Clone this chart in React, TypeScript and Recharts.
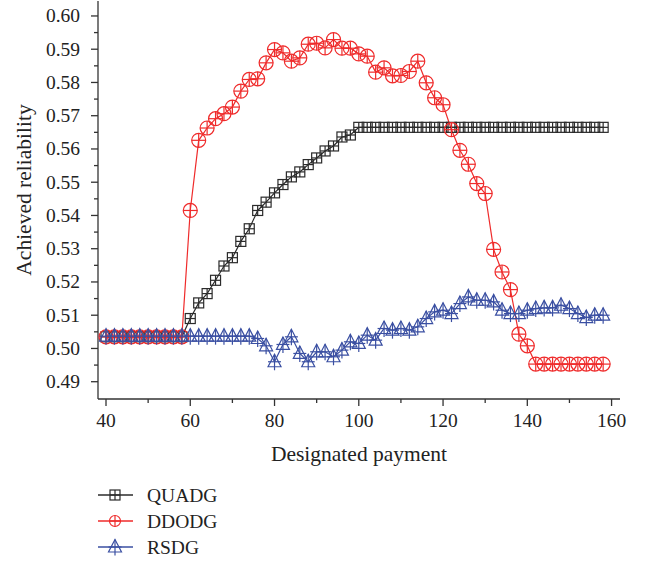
import React from "react";
import {
  LineChart,
  Line,
  XAxis,
  YAxis,
  Legend,
  Label,
} from "recharts";

const payments = [
  40, 42, 44, 46, 48, 50, 52, 54, 56, 58, 60, 62, 64, 66, 68, 70, 72, 74, 76, 78,
  80, 82, 84, 86, 88, 90, 92, 94, 96, 98, 100, 102, 104, 106, 108, 110, 112, 114, 116, 118,
  120, 122, 124, 126, 128, 130, 132, 134, 136, 138, 140, 142, 144, 146, 148, 150, 152, 154, 156, 158,
];

const quadg = [
  0.5035, 0.5035, 0.5035, 0.5035, 0.5035, 0.5035, 0.5035, 0.5035, 0.5035, 0.5035,
  0.509, 0.5137, 0.5165, 0.5205, 0.5248, 0.5273, 0.5322, 0.536, 0.5415, 0.544,
  0.5468, 0.5493, 0.5516, 0.5531, 0.5553, 0.5573, 0.5594, 0.5609, 0.5636, 0.5642,
  0.5665, 0.5665, 0.5665, 0.5665, 0.5665, 0.5665, 0.5665, 0.5665, 0.5665, 0.5665,
  0.5665, 0.5665, 0.5665, 0.5665, 0.5665, 0.5665, 0.5665, 0.5665, 0.5665, 0.5665,
  0.5665, 0.5665, 0.5665, 0.5665, 0.5665, 0.5665, 0.5665, 0.5665, 0.5665, 0.5665,
];

const ddodg = [
  0.5035, 0.5035, 0.5035, 0.5035, 0.5035, 0.5035, 0.5035, 0.5035, 0.5035, 0.5035,
  0.5415, 0.5626, 0.5663, 0.5691, 0.5706, 0.5726, 0.5774, 0.5809, 0.5811, 0.5859,
  0.5899, 0.5889, 0.5864, 0.5874, 0.5915, 0.5918, 0.5904, 0.5929, 0.5903, 0.5903,
  0.5886, 0.5879, 0.5831, 0.5844, 0.582, 0.5821, 0.5833, 0.5864, 0.5799, 0.5754,
  0.5733, 0.5658, 0.5596, 0.5554, 0.5496, 0.5466, 0.5298, 0.523, 0.5177, 0.5043,
  0.5008, 0.4953, 0.4953, 0.4953, 0.4953, 0.4953, 0.4953, 0.4953, 0.4953, 0.4953,
];

const rsdg = [
  0.5037, 0.5037, 0.5037, 0.5037, 0.5037, 0.5037, 0.5037, 0.5037, 0.5037, 0.5037,
  0.5037, 0.5037, 0.5037, 0.5037, 0.5037, 0.5037, 0.5037, 0.5037, 0.503, 0.5008,
  0.496, 0.5012, 0.5035, 0.4985, 0.496, 0.499, 0.499, 0.4975, 0.4995, 0.502,
  0.5015, 0.504, 0.5025, 0.506, 0.5055, 0.506, 0.5055, 0.5065, 0.509, 0.511,
  0.5115, 0.5105, 0.5135, 0.5155, 0.5145, 0.5145, 0.514, 0.5115, 0.5105, 0.5105,
  0.5115, 0.512, 0.5122, 0.5122, 0.513, 0.512, 0.5105, 0.5093, 0.51, 0.51,
];

const xTicks = [40, 50, 60, 70, 80, 90, 100, 110, 120, 130, 140, 150, 160];
const yTicks = [
  0.49, 0.495, 0.5, 0.505, 0.51, 0.515, 0.52, 0.525, 0.53, 0.535, 0.54, 0.545,
  0.55, 0.555, 0.56, 0.565, 0.57, 0.575, 0.58, 0.585, 0.59, 0.595, 0.6,
];

const data = payments.map((p, i) => ({
  payment: p,
  quadg: quadg[i],
  ddodg: ddodg[i],
  rsdg: rsdg[i],
}));

const FONT = "'Liberation Serif', 'DejaVu Serif', serif";
const AXIS = "#333";
const BLACK = "#2b2b2b";
const RED = "#ef2b2b";
const BLUE = "#3a4fa2";

const isMajorY = (v: number) => Math.round(v * 1000) % 10 === 0;
const isMajorX = (v: number) => v % 20 === 0;

function sideTick(side: "left" | "bottom" | "top" | "right") {
  return (props: any) => {
    const { x, y, payload } = props;
    const v = payload.value;
    const major = side === "left" || side === "right" ? isMajorY(v) : isMajorX(v);
    const len = major ? 7 : 4;
    if (side === "left") {
      return (
        <g>
          <line x1={x - len} x2={x} y1={y} y2={y} stroke={AXIS} strokeWidth={1.3} />
          {major && (
            <text x={x - 18} y={y + 6.5} textAnchor="end" fontSize={19.5} fontFamily={FONT} fill="#222">
              {v.toFixed(2)}
            </text>
          )}
        </g>
      );
    }
    if (side === "bottom") {
      return (
        <g>
          <line x1={x} x2={x} y1={y} y2={y + len} stroke={AXIS} strokeWidth={1.3} />
          {major && (
            <text x={x} y={y + 27.5} textAnchor="middle" fontSize={19.5} fontFamily={FONT} fill="#222">
              {v}
            </text>
          )}
        </g>
      );
    }
    if (side === "top") {
      return <line x1={x} x2={x} y1={y} y2={y + len} stroke={AXIS} strokeWidth={1.3} />;
    }
    return <line x1={x - len} x2={x} y1={y} y2={y} stroke={AXIS} strokeWidth={1.3} />;
  };
}

const SquareMark = ({ cx, cy, s = 5 }: any) => (
  <g stroke={BLACK} strokeWidth={1.2} fill="none">
    <rect x={cx - s} y={cy - s} width={s * 2} height={s * 2} />
    <line x1={cx} x2={cx} y1={cy - s} y2={cy + s} />
    <line x1={cx - s} x2={cx + s} y1={cy} y2={cy} />
  </g>
);

const CircleMark = ({ cx, cy, r = 7 }: any) => (
  <g stroke={RED} strokeWidth={1.2} fill="none">
    <circle cx={cx} cy={cy} r={r} />
    <line x1={cx} x2={cx} y1={cy - r} y2={cy + r} />
    <line x1={cx - r} x2={cx + r} y1={cy} y2={cy} />
  </g>
);

const TriangleMark = ({ cx, cy, s = 6.5 }: any) => (
  <g stroke={BLUE} strokeWidth={1.2} fill="none">
    <polygon points={`${cx},${cy - s - 1} ${cx - s},${cy + s - 1.5} ${cx + s},${cy + s - 1.5}`} />
    <line x1={cx} x2={cx} y1={cy - s - 1} y2={cy + s + 2} />
    <line x1={cx - s} x2={cx + s} y1={cy} y2={cy} />
  </g>
);

const squareDot = (p: any) => <SquareMark key={`q-${p.index}`} cx={p.cx} cy={p.cy} />;
const circleDot = (p: any) => <CircleMark key={`d-${p.index}`} cx={p.cx} cy={p.cy} />;
const triangleDot = (p: any) => <TriangleMark key={`r-${p.index}`} cx={p.cx} cy={p.cy} />;

const legendRows = [
  { name: "QUADG", color: BLACK, Mark: SquareMark, size: { s: 5 } },
  { name: "DDODG", color: RED, Mark: CircleMark, size: { r: 5.5 } },
  { name: "RSDG", color: BLUE, Mark: TriangleMark, size: { s: 6.5 } },
];

function LegendBox() {
  return (
    <svg width={200} height={85} style={{ display: "block" }}>
      {legendRows.map((row, i) => {
        const y = 15 + i * 26;
        const M = row.Mark;
        return (
          <g key={row.name}>
            <line x1={8} x2={43} y1={y} y2={y} stroke={row.color} strokeWidth={1.3} />
            <M cx={25} cy={y} {...row.size} />
            <text x={57} y={y + 6.5} fontSize={19.5} fontFamily={FONT} fill="#222">
              {row.name}
            </text>
          </g>
        );
      })}
    </svg>
  );
}

export default function App() {
  return (
    <div style={{ position: "absolute", left: 0, top: 0, width: 648, height: 565, background: "#fff" }}>
      <LineChart
        width={648}
        height={565}
        data={data}
        margin={{ top: 1, right: 28, bottom: 96, left: 38 }}
      >
        <XAxis
          dataKey="payment"
          type="number"
          domain={[38.1, 162]}
          allowDataOverflow
          ticks={xTicks}
          interval={0}
          tickSize={0}
          tickMargin={0}
          tickLine={false}
          tick={sideTick("bottom")}
          axisLine={{ stroke: AXIS, strokeWidth: 1.3 }}
          height={70}
        >
          <Label
            content={({ viewBox }: any) => (
              <text
                x={viewBox.x + viewBox.width / 2}
                y={viewBox.y + 62}
                textAnchor="middle"
                fontSize={21.5}
                fontFamily={FONT}
                fill="#222"
              >
                Designated payment
              </text>
            )}
          />
        </XAxis>
        <XAxis
          xAxisId="top"
          orientation="top"
          dataKey="payment"
          type="number"
          domain={[38.1, 162]}
          allowDataOverflow
          ticks={xTicks}
          interval={0}
          tickSize={0}
          tickMargin={0}
          tickLine={false}
          tick={sideTick("top")}
          axisLine={{ stroke: AXIS, strokeWidth: 1.3 }}
          height={0}
        />
        <YAxis
          type="number"
          domain={[0.4848, 0.6045]}
          allowDataOverflow
          ticks={yTicks}
          interval={0}
          tickSize={0}
          tickMargin={0}
          tickLine={false}
          tick={sideTick("left")}
          axisLine={{ stroke: AXIS, strokeWidth: 1.3 }}
          width={60}
        >
          <Label
            content={() => (
              <text
                x={31}
                y={190}
                transform={`rotate(-90 31 190)`}
                textAnchor="middle"
                fontSize={21.5}
                fontFamily={FONT}
                fill="#222"
              >
                Achieved reliability
              </text>
            )}
          />
        </YAxis>
        <YAxis
          yAxisId="right"
          orientation="right"
          type="number"
          domain={[0.4848, 0.6045]}
          allowDataOverflow
          ticks={yTicks}
          interval={0}
          tickSize={0}
          tickMargin={0}
          tickLine={false}
          tick={sideTick("right")}
          axisLine={{ stroke: AXIS, strokeWidth: 1.3 }}
          width={0}
        />
        <Legend
          layout="vertical"
          align="center"
          verticalAlign="middle"
          wrapperStyle={{ left: 90, top: 480, width: 200 }}
          content={() => <LegendBox />}
        />
        <Line
          dataKey="quadg"
          stroke={BLACK}
          strokeWidth={1.2}
          dot={squareDot}
          activeDot={false}
          isAnimationActive={false}
        />
        <Line
          dataKey="ddodg"
          stroke={RED}
          strokeWidth={1.2}
          dot={circleDot}
          activeDot={false}
          isAnimationActive={false}
        />
        <Line
          dataKey="rsdg"
          stroke={BLUE}
          strokeWidth={1.2}
          dot={triangleDot}
          activeDot={false}
          isAnimationActive={false}
        />
      </LineChart>
    </div>
  );
}
